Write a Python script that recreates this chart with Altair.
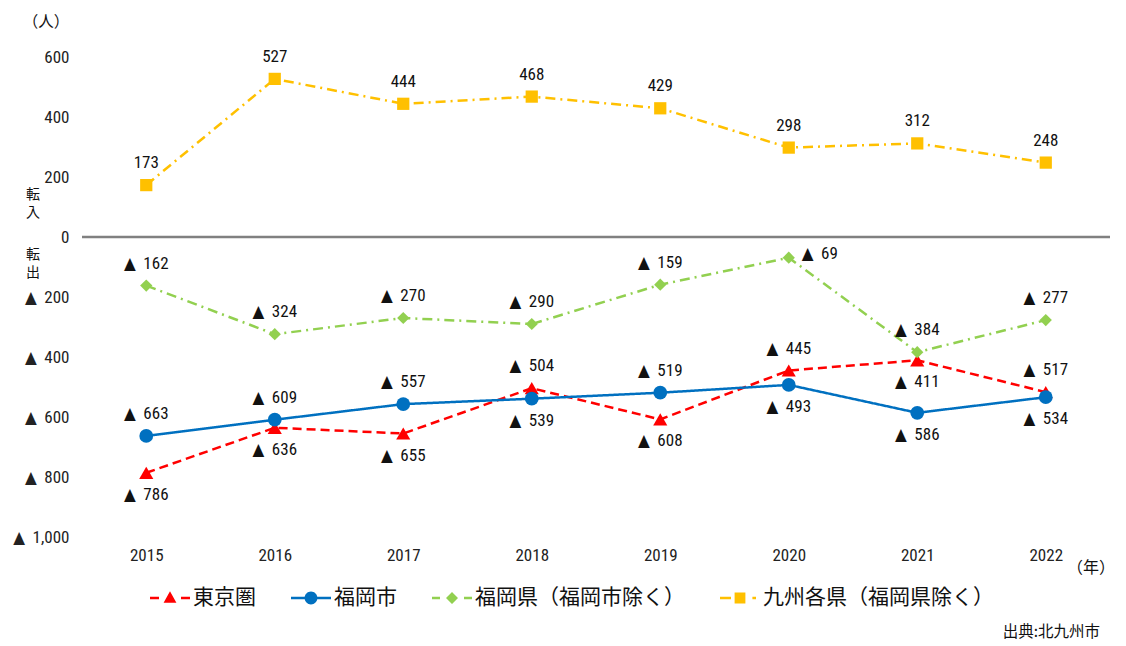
import altair as alt
import pandas as pd

years = ["2015", "2016", "2017", "2018", "2019", "2020", "2021", "2022"]
series_names = ["東京圏", "福岡市", "福岡県（福岡市除く）", "九州各県（福岡県除く）"]
tokyo = [-786, -636, -655, -504, -608, -445, -411, -517]
fukuoka_city = [-663, -609, -557, -539, -519, -493, -586, -534]
fukuoka_pref = [-162, -324, -270, -290, -159, -69, -384, -277]
kyushu = [173, 527, 444, 468, 429, 298, 312, 248]

# where each value label sits relative to its point
tokyo_lab = ["below", "below", "below", "above", "below", "above", "below", "above"]
city_lab = ["above", "above", "above", "below", "above", "below", "below", "below"]
pref_lab = ["above", "above", "above", "above", "above", "right", "above", "above"]
kyushu_lab = ["above"] * 8

y_ticks = [-1000, -800, -600, -400, -200, 0, 200, 400, 600]
colors = ["#FF0000", "#0070C0", "#92D050", "#FFC000"]
dashes = [[9, 5], [1, 0], [10, 5, 2, 5], [10, 5, 2, 5]]
shapes = ["triangle-up", "circle", "diamond", "square"]
sizes = [200, 190, 150, 150]
# legend glyphs: short line pieces (thin filled bars) with the marker in the middle
legend_paths = [
    "M-1,-0.06H-0.55V0.06H-1ZM0.55,-0.06H1V0.06H0.55ZM0,-0.34L0.32,0.24L-0.32,0.24Z",
    "M-1,-0.06H-0.3V0.06H-1ZM0.3,-0.06H1V0.06H0.3ZM0.32,0A0.32,0.32,0,1,1,-0.32,0A0.32,0.32,0,1,1,0.32,0Z",
    "M-1,-0.06H-0.6V0.06H-1ZM0.6,-0.06H1V0.06H0.6ZM0,-0.3L0.3,0L0,0.3L-0.3,0Z",
    "M-1,-0.06H-0.45V0.06H-1ZM0.62,-0.06H0.8V0.06H0.62ZM-0.27,-0.27H0.27V0.27H-0.27Z",
]

TRI = "▲\u2002"
rows = []
for name, vals, places in zip(series_names, [tokyo, fukuoka_city, fukuoka_pref, kyushu],
                              [tokyo_lab, city_lab, pref_lab, kyushu_lab]):
    for y, v, p in zip(years, vals, places):
        rows.append({"year": y, "series": name, "value": v, "place": p,
                     "label": (f"{TRI}{abs(v)}" if v < 0 else str(v))})
df = pd.DataFrame(rows)

NUM_FONT = "Roboto Condensed, DejaVu Sans Condensed, Liberation Sans Narrow, Noto Sans CJK JP"
JP_FONT = "Noto Sans CJK JP"

x_enc = alt.X("year:N", sort=years,
              axis=alt.Axis(title=None, labelAngle=0, domain=False, ticks=False, grid=False,
                            labelFontSize=17, labelPadding=10, labelFont=NUM_FONT,
                            labelColor="#222222"))
y_enc = alt.Y("value:Q", scale=alt.Scale(domain=[-1000, 600], nice=False, zero=False),
              axis=alt.Axis(values=y_ticks, title=None, domain=False, ticks=False,
                            labelExpr="datum.value < 0 ? '▲\u2002' + format(-datum.value, ',') : format(datum.value, ',')",
                            gridDash=[4, 3], gridColor="#BFBFBF", gridWidth=1,
                            labelFontSize=17, labelPadding=13, labelFont=NUM_FONT,
                            labelColor="#222222"))

base = alt.Chart(df)

leg = alt.Legend(orient="none", legendX=68, legendY=521, direction="horizontal", title=None,
                 symbolSize=1600, symbolStrokeWidth=0, labelFontSize=21, labelFont=JP_FONT,
                 labelLimit=400, columnPadding=35, labelOffset=3, padding=0, labelColor="#111111")

color_scale = alt.Scale(domain=series_names, range=colors)
color_nolegend = alt.Color("series:N", scale=color_scale, legend=None)

lines = base.mark_line(strokeWidth=2.5).encode(
    x=x_enc, y=y_enc, color=color_nolegend,
    strokeDash=alt.StrokeDash("series:N", scale=alt.Scale(domain=series_names, range=dashes), legend=None),
    detail="series:N",
)

point_layers = []
for name, shp, sz in zip(series_names, shapes, sizes):
    point_layers.append(
        base.mark_point(filled=True, opacity=1, shape=shp, size=sz).encode(
            x=x_enc, y=y_enc, color=color_nolegend
        ).transform_filter(alt.datum.series == name)
    )

# off-canvas points that only feed the legend
legend_layer = base.mark_point(filled=True, opacity=1).encode(
    x=x_enc, y=alt.value(-900),
    color=alt.Color("series:N", scale=color_scale, legend=leg),
    shape=alt.Shape("series:N", scale=alt.Scale(domain=series_names, range=legend_paths), legend=leg),
)

lab_above = base.mark_text(fontSize=17, dy=-22, font=NUM_FONT, color="#111111").encode(
    x=x_enc, y=y_enc, text="label:N").transform_filter("datum.place == 'above'")
lab_below = base.mark_text(fontSize=17, dy=22, font=NUM_FONT, color="#111111").encode(
    x=x_enc, y=y_enc, text="label:N").transform_filter("datum.place == 'below'")
lab_right = base.mark_text(fontSize=17, dx=31, dy=-4, font=NUM_FONT, color="#111111").encode(
    x=x_enc, y=y_enc, text="label:N").transform_filter("datum.place == 'right'")

one = pd.DataFrame({"a": [0]})
zero_rule = alt.Chart(one).mark_rule(color="#808080", strokeWidth=2.5).encode(y=alt.datum(0))


def note(txt, x, y, size=16, align="center", font=JP_FONT):
    return alt.Chart(one).mark_text(fontSize=size, align=align, baseline="middle", font=font,
                                    color="#111111").encode(
        x=alt.value(x), y=alt.value(y), text=alt.value(txt))


notes = [
    note("（人）", -36, -35, 15.5),
    note("転", -49, 138, 14),
    note("入", -49, 156, 14),
    note("転", -49, 198, 14),
    note("出", -49, 216, 14),
    note("（年）", 1033, 511, 16, align="right"),
    note("出典:北九州市", 1018, 575, 15.5, align="right"),
]

chart = alt.layer(legend_layer, zero_rule, lines, *point_layers, lab_above, lab_below, lab_right, *notes).properties(
    width=1028, height=480,
    autosize=alt.AutoSizeParams(type="none"),
    padding={"left": 74, "top": 49, "right": 8, "bottom": 106},
).configure_view(stroke=None)

chart.save("out.html", embed_options={"renderer": "svg", "actions": False})
